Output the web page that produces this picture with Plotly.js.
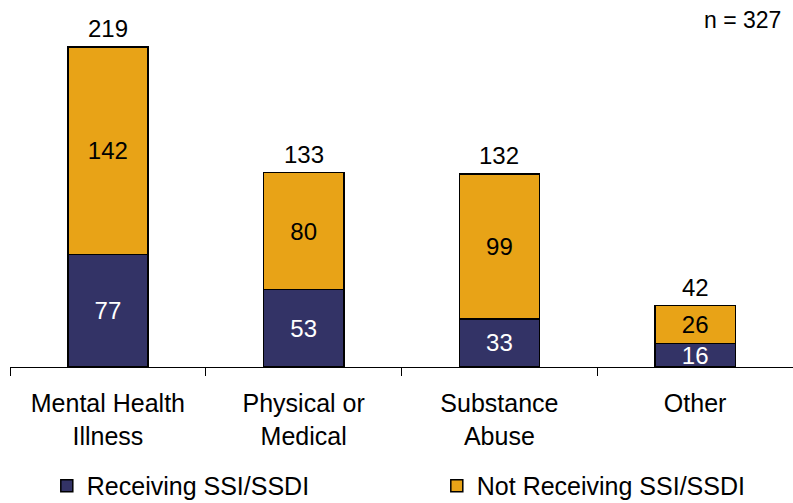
<!DOCTYPE html>
<html><head><meta charset="utf-8">
<script src="https://cdn.plot.ly/plotly-3.0.1.min.js"></script>
<style>body{margin:0;padding:0;background:#fff}#chart{width:793px;height:503px}</style>
</head><body><div id="chart"></div>
<script>
const categories = ["Mental Health<br>Illness", "Physical or<br>Medical", "Substance<br>Abuse", "Other"];
const receiving = [77, 53, 33, 16];
const notReceiving = [142, 80, 99, 26];
const totals = [219, 133, 132, 42];
const seriesNames = ["Receiving SSI/SSDI", "Not Receiving SSI/SSDI"];
const nLabel = "n = 327";

const FONT = "Liberation Sans, Arial, sans-serif";
const NAVY = "#333366";
const ORANGE = "#E8A317";

const traces = [
  {type: "bar", name: seriesNames[0], x: categories, y: receiving,
   text: receiving.map(String), textposition: "inside", insidetextanchor: "middle",
   textangle: 0, constraintext: "none",
   textfont: {family: FONT, size: 24, color: "#ffffff"},
   marker: {color: NAVY, line: {color: "#000000", width: 1.5}}, hoverinfo: "none"},
  {type: "bar", name: seriesNames[1], x: categories, y: notReceiving,
   text: notReceiving.map(String), textposition: "inside", insidetextanchor: "middle",
   textangle: 0, constraintext: "none",
   textfont: {family: FONT, size: 24, color: "#000000"},
   marker: {color: ORANGE, line: {color: "#000000", width: 1.5}}, hoverinfo: "none"}
];

const annotations = categories.map((c, i) => ({
  x: c, y: totals[i], xref: "x", yref: "y", text: String(totals[i]),
  showarrow: false, yanchor: "bottom", yshift: 3,
  font: {family: FONT, size: 24, color: "#000000"}
}));
annotations.push({x: 1, y: 1, xref: "paper", yref: "paper", xanchor: "right", yanchor: "middle",
  text: nLabel, showarrow: false, xshift: -10, yshift: 0, font: {family: FONT, size: 23, color: "#000"}});

const layout = {
  width: 793, height: 503,
  margin: {l: 10, r: 0, t: 20, b: 136, pad: 0, autoexpand: false},
  paper_bgcolor: "#ffffff", plot_bgcolor: "#ffffff",
  barmode: "stack", bargap: 0.59,
  showlegend: true,
  legend: {orientation: "h", x: 0.047, xanchor: "left",
           y: -0.409, yanchor: "bottom",
           font: {family: FONT, size: 25, color: "#000"}, entrywidth: 345, traceorder: "normal"},
  xaxis: {type: "category", showline: true, linecolor: "#000", linewidth: 1,
          ticks: "outside", tickson: "boundaries", ticklen: 8, tickcolor: "#000",
          ticklabelstandoff: 14,
          tickfont: {family: FONT, size: 25, color: "#000"}, showgrid: false, fixedrange: true,
          automargin: false},
  yaxis: {range: [0, 237.5], visible: false, showgrid: false, zeroline: false, fixedrange: true},
  annotations: annotations,
  font: {family: FONT}
};

Plotly.newPlot("chart", traces, layout, {staticPlot: true, displayModeBar: false});
</script></body></html>
